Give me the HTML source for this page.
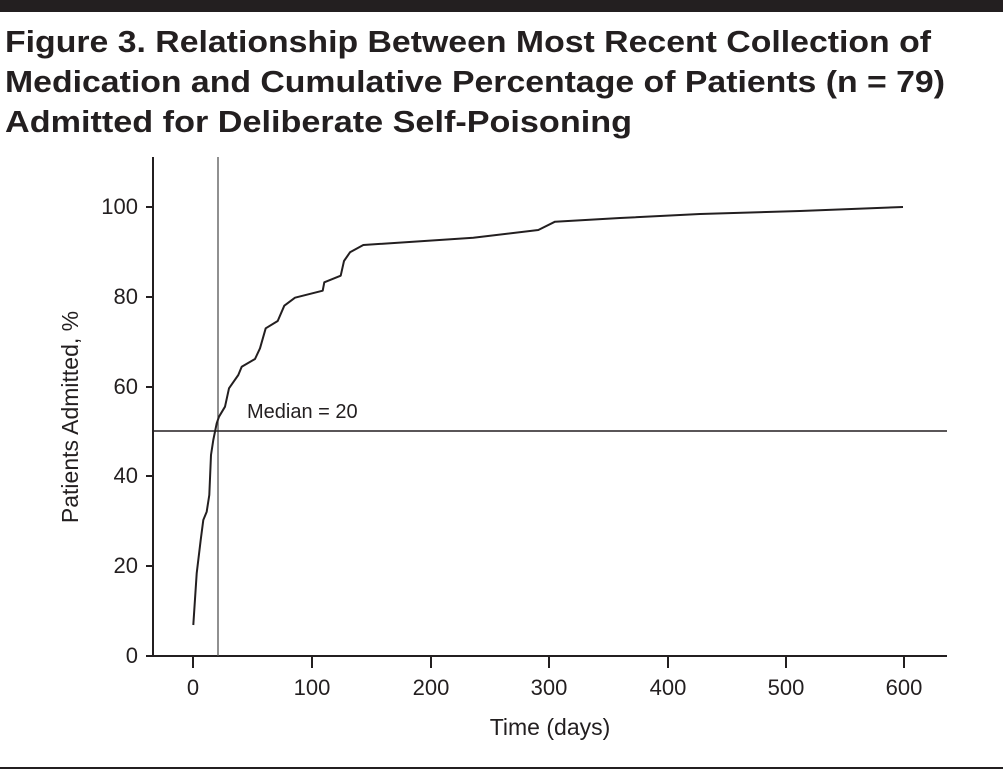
<!DOCTYPE html>
<html><head><meta charset="utf-8"><style>
html,body{margin:0;padding:0;background:#fff;}
svg{display:block;font-family:"Liberation Sans",sans-serif;}
</style></head><body>
<svg width="1003" height="774" viewBox="0 0 1003 774" xmlns="http://www.w3.org/2000/svg">
<rect x="0" y="0" width="1003" height="12" fill="#231f20"/>
<g font-weight="bold" font-size="31" fill="#231f20">
<text x="5" y="52" textLength="926" lengthAdjust="spacingAndGlyphs">Figure 3. Relationship Between Most Recent Collection of</text>
<text x="5" y="92" textLength="940" lengthAdjust="spacingAndGlyphs">Medication and Cumulative Percentage of Patients (n = 79)</text>
<text x="5" y="132" textLength="627" lengthAdjust="spacingAndGlyphs">Admitted for Deliberate Self-Poisoning</text>
</g>
<g stroke="#231f20" stroke-width="2" fill="none">
<line x1="153" y1="157" x2="153" y2="657"/>
<line x1="152" y1="656" x2="947" y2="656"/>
<line x1="146" y1="207" x2="153" y2="207"/>
<line x1="146" y1="297" x2="153" y2="297"/>
<line x1="146" y1="387" x2="153" y2="387"/>
<line x1="146" y1="476" x2="153" y2="476"/>
<line x1="146" y1="566" x2="153" y2="566"/>
<line x1="146" y1="656" x2="153" y2="656"/>
<line x1="193" y1="656" x2="193" y2="668"/>
<line x1="312" y1="656" x2="312" y2="668"/>
<line x1="431" y1="656" x2="431" y2="668"/>
<line x1="549" y1="656" x2="549" y2="668"/>
<line x1="668" y1="656" x2="668" y2="668"/>
<line x1="786" y1="656" x2="786" y2="668"/>
<line x1="904" y1="656" x2="904" y2="668"/>
</g>
<line x1="218" y1="157" x2="218" y2="656" stroke="#555" stroke-width="1.3"/>
<line x1="153" y1="431" x2="947" y2="431" stroke="#231f20" stroke-width="1.5"/>
<polyline fill="none" stroke="#231f20" stroke-width="2" stroke-linejoin="round" points="193.3,625 196.7,573.3 200.7,540 203.3,520 206.7,511.7 209.3,495 211,455 213.3,440 216.7,423.3 219,416.7 225,406.7 229,388.3 238.3,375 241.7,366.7 255,359 260,348.3 265.7,328.3 277.7,321 284.3,305.7 295,297.7 322.7,290.7 324.3,282.3 340.7,275.7 344,261 350,252.3 363.3,245 473.3,237.7 538.3,230 555,221.7 620,218 700,214 800,211 903,207"/>
<text x="247" y="418" font-size="20" fill="#231f20">Median = 20</text>
<g font-size="22" fill="#231f20" text-anchor="end">
<text x="138" y="214">100</text>
<text x="138" y="304">80</text>
<text x="138" y="394">60</text>
<text x="138" y="483">40</text>
<text x="138" y="573">20</text>
<text x="138" y="663">0</text>
</g>
<g font-size="22" fill="#231f20" text-anchor="middle">
<text x="193" y="695">0</text>
<text x="312" y="695">100</text>
<text x="431" y="695">200</text>
<text x="549" y="695">300</text>
<text x="668" y="695">400</text>
<text x="786" y="695">500</text>
<text x="904" y="695">600</text>
<text x="550" y="735" font-size="23">Time (days)</text>
<text transform="translate(78,417) rotate(-90)" font-size="23">Patients Admitted, %</text>
</g>
<rect x="0" y="767" width="1003" height="2" fill="#231f20"/>
</svg>
</body></html>
